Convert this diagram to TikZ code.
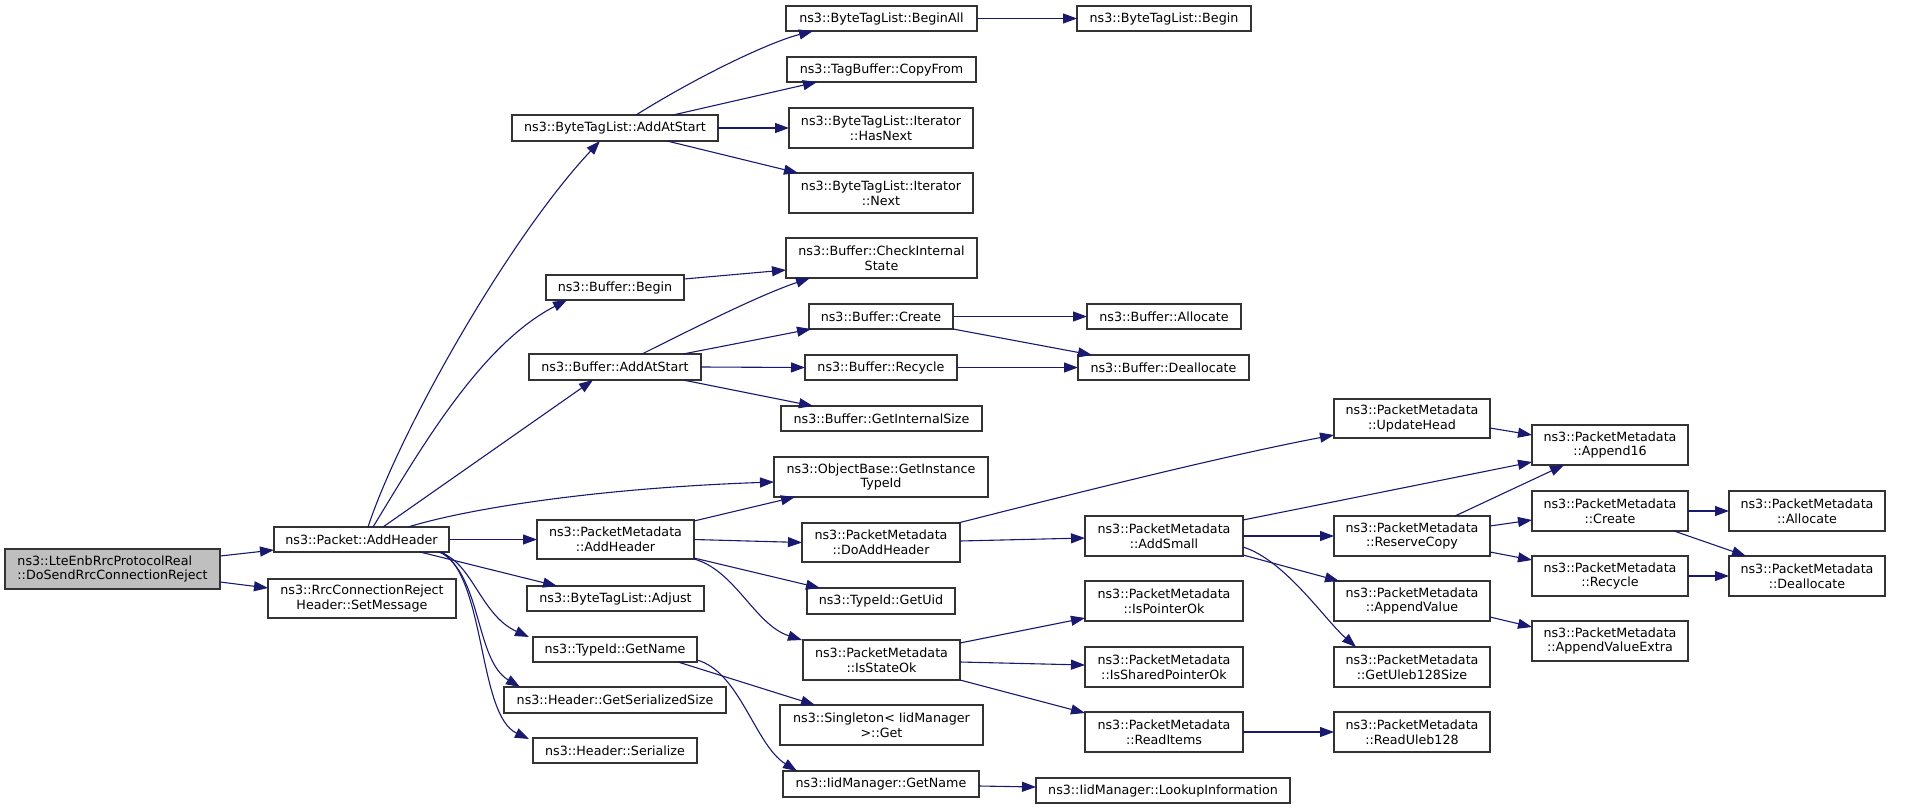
\documentclass[tikz,border=0pt]{standalone}
\usepackage{fontspec}
\setmainfont{DejaVu Sans}
\usetikzlibrary{arrows.meta,calc}
\definecolor{edgec}{HTML}{191970}
\definecolor{boxc}{HTML}{333333}
\definecolor{rootc}{HTML}{BFBFBF}
\newcommand\mynode[7][]{\node[box,#1,minimum width={(#4-#3)*0.5pt},minimum height={(#6-#5)*0.5pt}] (#2) at ({(#3+#4)/2},{(#5+#6)/2}) {#7};}
\begin{document}
\begin{tikzpicture}[x=0.5pt,y=-0.5pt,
  box/.style={draw=boxc,line width=0.65pt,fill=white,inner sep=0pt,outer sep=0pt,align=center,font=\fontsize{6.35pt}{7.35pt}\selectfont},
  e/.style={draw=edgec,line width=0.55pt,-{Triangle[length=7pt,width=5pt]}}]
\useasboundingbox (0,0) rectangle (1913,809);
% nodes
\mynode[fill=rootc,align=left]{root}{5}{220}{549}{589}{ns3::LteEnbRrcProtocolReal\\::DoSendRrcConnectionReject}
\mynode{pAddHeader}{274}{449}{527}{552}{ns3::Packet::AddHeader}
\mynode{setMsg}{268}{456}{579}{618}{ns3::RrcConnectionReject\\Header::SetMessage}
\mynode{btlAddAtStart}{512}{718}{115}{141}{ns3::ByteTagList::AddAtStart}
\mynode{bufBegin}{546}{684}{275}{300}{ns3::Buffer::Begin}
\mynode{bufAddAtStart}{529}{701}{354}{380}{ns3::Buffer::AddAtStart}
\mynode{pmAddHeader}{537}{694}{520}{559}{ns3::PacketMetadata\\::AddHeader}
\mynode{btlAdjust}{527}{704}{586}{611}{ns3::ByteTagList::Adjust}
\mynode{tidGetName}{533}{697}{637}{662}{ns3::TypeId::GetName}
\mynode{hdrGetSerSize}{504}{726}{687}{713}{ns3::Header::GetSerializedSize}
\mynode{hdrSerialize}{533}{697}{738}{763}{ns3::Header::Serialize}
\mynode{btlBeginAll}{786}{977}{6}{31}{ns3::ByteTagList::BeginAll}
\mynode{tbCopyFrom}{787}{976}{57}{82}{ns3::TagBuffer::CopyFrom}
\mynode{itHasNext}{789}{973}{108}{148}{ns3::ByteTagList::Iterator\\::HasNext}
\mynode{itNext}{789}{973}{173}{213}{ns3::ByteTagList::Iterator\\::Next}
\mynode{bufCheck}{786}{977}{238}{278}{ns3::Buffer::CheckInternal\\State}
\mynode{bufCreate}{809}{953}{304}{329}{ns3::Buffer::Create}
\mynode{bufRecycle}{805}{957}{355}{380}{ns3::Buffer::Recycle}
\mynode{bufGetIntSize}{781}{982}{406}{431}{ns3::Buffer::GetInternalSize}
\mynode{objGetInst}{774}{988}{457}{497}{ns3::ObjectBase::GetInstance\\TypeId}
\mynode{pmDoAddHeader}{802}{960}{523}{562}{ns3::PacketMetadata\\::DoAddHeader}
\mynode{tidGetUid}{807}{955}{588}{614}{ns3::TypeId::GetUid}
\mynode{pmIsStateOk}{803}{960}{640}{680}{ns3::PacketMetadata\\::IsStateOk}
\mynode{singleton}{780}{983}{705}{745}{ns3::Singleton< IidManager\\>::Get}
\mynode{iidGetName}{783}{979}{771}{797}{ns3::IidManager::GetName}
\mynode{btlBegin}{1077}{1251}{6}{31}{ns3::ByteTagList::Begin}
\mynode{bufAllocate}{1087}{1241}{304}{329}{ns3::Buffer::Allocate}
\mynode{bufDealloc}{1078}{1249}{355}{380}{ns3::Buffer::Deallocate}
\mynode{pmAddSmall}{1085}{1243}{516}{556}{ns3::PacketMetadata\\::AddSmall}
\mynode{pmIsPtrOk}{1085}{1243}{581}{621}{ns3::PacketMetadata\\::IsPointerOk}
\mynode{pmIsShared}{1085}{1243}{647}{687}{ns3::PacketMetadata\\::IsSharedPointerOk}
\mynode{pmReadItems}{1085}{1243}{712}{752}{ns3::PacketMetadata\\::ReadItems}
\mynode{iidLookup}{1036}{1290}{778}{803}{ns3::IidManager::LookupInformation}
\mynode{pmUpdateHead}{1334}{1490}{399}{438}{ns3::PacketMetadata\\::UpdateHead}
\mynode{pmReserveCopy}{1334}{1490}{516}{556}{ns3::PacketMetadata\\::ReserveCopy}
\mynode{pmAppendValue}{1334}{1490}{581}{621}{ns3::PacketMetadata\\::AppendValue}
\mynode{pmGetUleb}{1334}{1490}{647}{687}{ns3::PacketMetadata\\::GetUleb128Size}
\mynode{pmReadUleb}{1334}{1490}{712}{752}{ns3::PacketMetadata\\::ReadUleb128}
\mynode{pmAppend16}{1532}{1688}{425}{465}{ns3::PacketMetadata\\::Append16}
\mynode{pmCreate}{1532}{1688}{491}{531}{ns3::PacketMetadata\\::Create}
\mynode{pmRecycle}{1532}{1688}{556}{596}{ns3::PacketMetadata\\::Recycle}
\mynode{pmAppendValueExtra}{1532}{1688}{621}{661}{ns3::PacketMetadata\\::AppendValueExtra}
\mynode{pmAllocate}{1729}{1885}{491}{531}{ns3::PacketMetadata\\::Allocate}
\mynode{pmDealloc}{1729}{1885}{556}{596}{ns3::PacketMetadata\\::Deallocate}
% edges
\draw[e] ($(root.north east)+(0,7)$) -- ($(pAddHeader.north west)+(0,23)$);
\draw[e] ($(root.north east)+(0,33)$) -- ($(setMsg.north west)+(0,9)$);
\draw[e] ($(pAddHeader.north west)+(94,0)$) .. controls +(32,-97) and +(-91,97) .. ($(btlAddAtStart.south west)+(88,0)$);
\draw[e] ($(pAddHeader.north west)+(99,0)$) .. controls +(47,-77) and +(-87,45) .. ($(bufBegin.south west)+(21,0)$);
\draw[e] ($(pAddHeader.north west)+(109,0)$) -- ($(bufAddAtStart.south west)+(64,0)$);
\draw[e] ($(pAddHeader.north west)+(134,0)$) .. controls +(62,-19) and +(-174,6) .. ($(objGetInst.north west)+(0,25)$);
\draw[e] (pAddHeader.east) -- (pmAddHeader.west);
\draw[e] ($(pAddHeader.south west)+(146,0)$) -- ($(btlAdjust.north west)+(30,0)$);
\draw[e] ($(pAddHeader.south west)+(164,0)$) .. controls +(34,8) and +(-49,-22) .. ($(tidGetName.north west)+(-4,0)$);
\draw[e] ($(pAddHeader.south west)+(166,0)$) .. controls +(42,23) and +(-45,-27) .. ($(hdrGetSerSize.north west)+(16,0)$);
\draw[e] ($(pAddHeader.south west)+(168,0)$) .. controls +(44,28) and +(-51,-24) .. ($(hdrSerialize.north west)+(-4,1)$);
\draw[e] ($(btlAddAtStart.north west)+(124,0)$) .. controls +(64,-40) and +(-43,11) .. ($(btlBeginAll.south west)+(27,0)$);
\draw[e] ($(btlAddAtStart.north west)+(161,0)$) -- ($(tbCopyFrom.south west)+(30,0)$);
\draw[e] (btlAddAtStart.east) -- (itHasNext.west);
\draw[e] ($(btlAddAtStart.south west)+(155,0)$) -- ($(itNext.north west)+(9,0)$);
\draw[e] (btlBeginAll.east) -- (btlBegin.west);
\draw[e] ($(bufBegin.north east)+(0,4)$) -- ($(bufCheck.north west)+(0,32)$);
\draw[e] ($(bufAddAtStart.north west)+(113,0)$) .. controls +(58,-29) and +(-50,17) .. ($(bufCheck.south west)+(24,0)$);
\draw[e] ($(bufAddAtStart.north west)+(154,0)$) -- ($(bufCreate.south west)+(2,0)$);
\draw[e] (bufAddAtStart.east) -- (bufRecycle.west);
\draw[e] ($(bufAddAtStart.south west)+(154,0)$) -- ($(bufGetIntSize.north west)+(32,0)$);
\draw[e] (bufCreate.east) -- (bufAllocate.west);
\draw[e] (bufCreate.south east) -- ($(bufDealloc.north west)+(14,0)$);
\draw[e] (bufRecycle.east) -- (bufDealloc.west);
\draw[e] ($(pmAddHeader.north east)+(0,1)$) -- ($(objGetInst.south west)+(21,0)$);
\draw[e] (pmAddHeader.east) -- (pmDoAddHeader.west);
\draw[e] ($(pmAddHeader.south east)+(0,-1)$) -- ($(tidGetUid.north west)+(13,0)$);
\draw[e] (pmAddHeader.south east) .. controls +(41,11) and +(-47,-15) .. ($(pmIsStateOk.north west)+(-1,0)$);
\draw[e] ($(pmDoAddHeader.north east)+(-2,0)$) .. controls +(122,-31) and +(-106,20) .. ($(pmUpdateHead.north west)+(0,36)$);
\draw[e] ($(pmDoAddHeader.north east)+(0,18)$) -- ($(pmAddSmall.north west)+(0,22)$);
\draw[e] ($(pmAddSmall.north east)+(0,4)$) -- ($(pmAppend16.north west)+(0,37)$);
\draw[e] (pmAddSmall.east) -- (pmReserveCopy.west);
\draw[e] ($(pmAddSmall.south east)+(0,-1)$) -- ($(pmAppendValue.north west)+(5,0)$);
\draw[e] ($(pmAddSmall.north east)+(0,31)$) .. controls +(42,13) and +(-31,-27) .. ($(pmGetUleb.north west)+(22,0)$);
\draw[e] ($(pmUpdateHead.north east)+(0,29)$) -- ($(pmAppend16.north west)+(0,10)$);
\draw[e] ($(pmReserveCopy.north west)+(121,0)$) -- ($(pmAppend16.south west)+(32,0)$);
\draw[e] ($(pmReserveCopy.north east)+(0,10)$) -- ($(pmCreate.north west)+(0,29)$);
\draw[e] ($(pmReserveCopy.north east)+(0,36)$) -- ($(pmRecycle.north west)+(0,4)$);
\draw[e] (pmCreate.east) -- (pmAllocate.west);
\draw[e] ($(pmCreate.south east)+(-14,0)$) -- ($(pmDealloc.north west)+(17,0)$);
\draw[e] (pmRecycle.east) -- (pmDealloc.west);
\draw[e] ($(pmAppendValue.north east)+(0,36)$) -- ($(pmAppendValueExtra.north west)+(0,6)$);
\draw[e] ($(pmIsStateOk.north east)+(0,3)$) -- ($(pmIsPtrOk.north west)+(0,37)$);
\draw[e] ($(pmIsStateOk.north east)+(0,22)$) -- ($(pmIsShared.north west)+(0,18)$);
\draw[e] (pmIsStateOk.south east) -- ($(pmReadItems.north west)+(0,1)$);
\draw[e] (pmReadItems.east) -- (pmReadUleb.west);
\draw[e] ($(tidGetName.south west)+(145,0)$) -- ($(singleton.north west)+(35,0)$);
\draw[e] ($(tidGetName.south east)+(0,-2)$) .. controls +(43,12) and +(-42,-26) .. ($(iidGetName.north west)+(14,0)$);
\draw[e] ($(iidGetName.north east)+(0,15)$) -- ($(iidLookup.north west)+(0,9)$);
\end{tikzpicture}
\end{document}
